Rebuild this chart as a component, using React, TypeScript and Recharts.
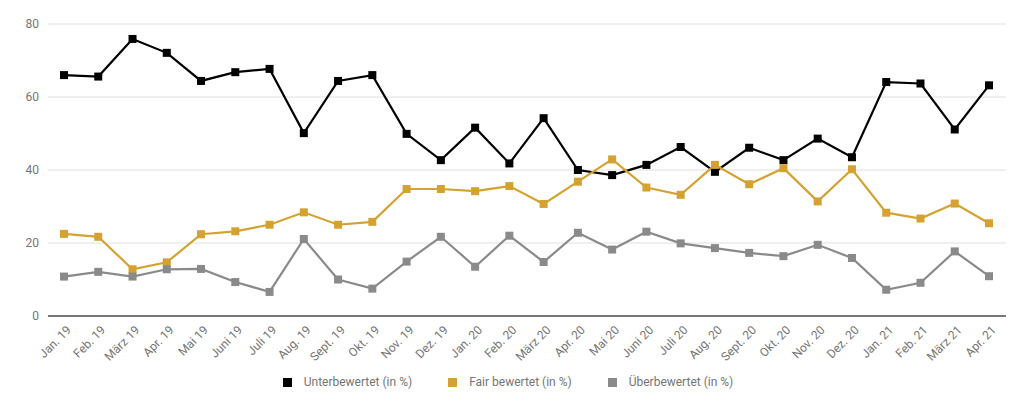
import React from 'react';
import { LineChart, Line, XAxis, YAxis, CartesianGrid, Legend } from 'recharts';

const months = [
  'Jan. 19', 'Feb. 19', 'März 19', 'Apr. 19', 'Mai 19', 'Juni 19', 'Juli 19', 'Aug. 19', 'Sept. 19', 'Okt. 19',
  'Nov. 19', 'Dez. 19', 'Jan. 20', 'Feb. 20', 'März 20', 'Apr. 20', 'Mai 20', 'Juni 20', 'Juli 20', 'Aug. 20',
  'Sept. 20', 'Okt. 20', 'Nov. 20', 'Dez. 20', 'Jan. 21', 'Feb. 21', 'März 21', 'Apr. 21',
];

const unterbewertet = [
  66.0, 65.6, 75.9, 72.1, 64.4, 66.8, 67.7, 50.1, 64.4, 66.0,
  49.9, 42.7, 51.6, 41.8, 54.2, 40.0, 38.6, 41.4, 46.3, 39.5,
  46.1, 42.7, 48.6, 43.5, 64.1, 63.7, 51.1, 63.2,
];

const fairBewertet = [
  22.5, 21.7, 12.8, 14.7, 22.4, 23.2, 25.0, 28.4, 25.0, 25.8,
  34.8, 34.8, 34.2, 35.6, 30.7, 36.8, 42.9, 35.2, 33.2, 41.4,
  36.1, 40.5, 31.4, 40.2, 28.3, 26.7, 30.8, 25.4,
];

const ueberbewertet = [
  10.8, 12.1, 10.8, 12.8, 12.9, 9.3, 6.6, 21.1, 10.0, 7.5,
  14.9, 21.7, 13.5, 22.0, 14.8, 22.8, 18.2, 23.1, 19.9, 18.6,
  17.3, 16.4, 19.5, 15.9, 7.2, 9.1, 17.7, 10.9,
];

const yTicks = [0, 20, 40, 60, 80];

const seriesOrder = ['unter', 'fair', 'ueber'];

const data = months.map((m, i) => ({
  month: m,
  unter: unterbewertet[i],
  fair: fairBewertet[i],
  ueber: ueberbewertet[i],
}));

const FONT = 'Roboto, "Noto Sans", Arial, sans-serif';

const SquareDot = (props: any) => {
  const { cx, cy, stroke } = props;
  if (cx == null || cy == null) return null;
  return <rect x={cx - 4} y={cy - 4} width={8} height={8} fill={stroke} />;
};

const RotatedTick = (props: any) => {
  const { x, y, payload } = props;
  return (
    <g transform={`translate(${x + 5},${y + 4})`}>
      <text
        textAnchor="end"
        transform="rotate(-45)"
        fill="#757575"
        fontSize={12}
        fontFamily={FONT}
        dy={4}
      >
        {payload.value}
      </text>
    </g>
  );
};

export default function App() {
  return (
    <div style={{ position: 'absolute', left: 0, top: 0, width: 1024, height: 404, background: '#fff' }}>
      <LineChart width={1024} height={404} data={data} margin={{ top: 24, right: 18, bottom: 24, left: 0 }}>
        <CartesianGrid vertical={false} stroke="#e0e0e0" />
        <XAxis
          dataKey="month"
          interval={0}
          height={50}
          padding={{ left: 16, right: 17 }}
          tick={<RotatedTick />}
          tickLine={false}
          axisLine={{ stroke: '#777', strokeWidth: 2 }}
        />
        <YAxis
          width={48}
          domain={[0, 80]}
          ticks={yTicks}
          axisLine={false}
          tickLine={false}
          tick={{ fill: '#757575', fontSize: 12, fontFamily: FONT }}
          tickMargin={3}
        />
        <Legend
          verticalAlign="bottom"
          align="center"
          iconType="square"
          iconSize={9}
          itemSorter={(item: any) => seriesOrder.indexOf(item.dataKey)}
          wrapperStyle={{ top: 375, left: 14, width: 1024, fontFamily: FONT, fontSize: 12 }}
          formatter={(value: string) => (
            <span style={{ color: '#757575', marginLeft: 8, marginRight: 26 }}>{value}</span>
          )}
        />
        <Line
          name="Unterbewertet (in %)"
          dataKey="unter"
          stroke="#000000"
          strokeWidth={2.2}
          dot={<SquareDot />}
          activeDot={false}
          isAnimationActive={false}
        />
        <Line
          name="Fair bewertet (in %)"
          dataKey="fair"
          stroke="#d4a230"
          strokeWidth={2.2}
          dot={<SquareDot />}
          activeDot={false}
          isAnimationActive={false}
        />
        <Line
          name="Überbewertet (in %)"
          dataKey="ueber"
          stroke="#8a8a8a"
          strokeWidth={2.2}
          dot={<SquareDot />}
          activeDot={false}
          isAnimationActive={false}
        />
      </LineChart>
    </div>
  );
}
